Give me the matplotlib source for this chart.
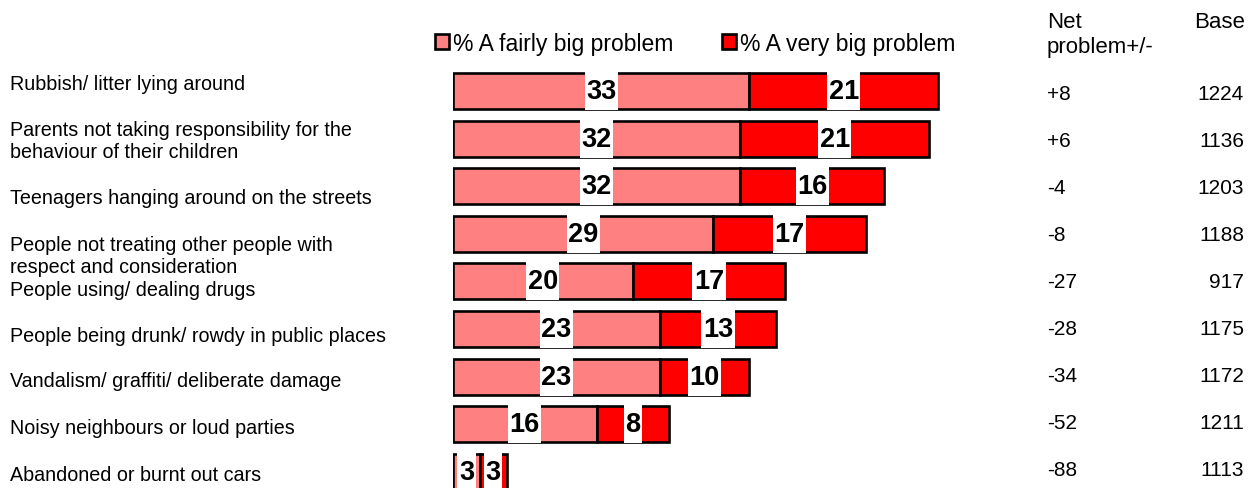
import matplotlib
matplotlib.use("Agg")
import matplotlib.pyplot as plt
from matplotlib.patches import Rectangle

plt.rcParams['font.family'] = ['Liberation Sans', 'DejaVu Sans']

categories = [
    "Rubbish/ litter lying around",
    "Parents not taking responsibility for the\nbehaviour of their children",
    "Teenagers hanging around on the streets",
    "People not treating other people with\nrespect and consideration",
    "People using/ dealing drugs",
    "People being drunk/ rowdy in public places",
    "Vandalism/ graffiti/ deliberate damage",
    "Noisy neighbours or loud parties",
    "Abandoned or burnt out cars",
]
fairly_big = [33, 32, 32, 29, 20, 23, 23, 16, 3]
very_big = [21, 21, 16, 17, 17, 13, 10, 8, 3]
net_problem = ["+8", "+6", "-4", "-8", "-27", "-28", "-34", "-52", "-88"]
base = ["1224", "1136", "1203", "1188", "917", "1175", "1172", "1211", "1113"]
series_names = ["% A fairly big problem", "% A very big problem"]

W, H = 1256, 489
fig = plt.figure(figsize=(W / 100, H / 100), dpi=100)


def fx(px):
    return px / W


def fy(py):
    return 1 - py / H


# plot area: zero at x=453px, 8.98 px per percentage point, rows 47.6 px apart
x0, x1 = 453, 1000
row0, step = 92, 47.6
top = row0 - 0.5 * step
ax = fig.add_axes([fx(x0), 0, fx(x1 - x0), (H - top) / H])
ax.set_xlim(0, (x1 - x0) / 8.98)
ax.set_ylim((H - row0) / step, -0.5)
ax.axis("off")

ypos = list(range(len(categories)))
bar_h = 0.756
c_fairly, c_very = "#FF8080", "#FF0000"
ax.barh(ypos, fairly_big, height=bar_h, color=c_fairly, edgecolor="black",
        linewidth=1.9, zorder=2, label=series_names[0])
ax.barh(ypos, very_big, left=fairly_big, height=bar_h, color=c_very,
        edgecolor="black", linewidth=1.9, zorder=2, label=series_names[1])

# value labels on white boxes in the middle of each segment
labels = []
for i in ypos:
    for left, val in ((0, fairly_big[i]), (fairly_big[i], very_big[i])):
        t = ax.text(left + val / 2, i, str(val), ha="center", va="center",
                    fontsize=19.5, fontweight="bold", color="black", zorder=5)
        labels.append((t, left + val / 2, i))

fig.canvas.draw()
inv = ax.transData.inverted()
for t, xc, yc in labels:
    bb = t.get_window_extent()
    (xa, _), (xb, _) = inv.transform([(bb.x0 - 1.5, 0), (bb.x1 + 1.5, 0)])
    ax.add_patch(Rectangle((xa, yc - bar_h / 2 - 0.02), xb - xa, bar_h + 0.04,
                           facecolor="white", edgecolor="none", zorder=4))

# legend
leg = fig.legend(loc="center left", bbox_to_anchor=(fx(435), fy(44)),
                 ncol=2, frameon=False, fontsize=16.5, handlelength=0.62,
                 handleheight=0.62, handletextpad=0.18, columnspacing=2.1,
                 borderpad=0, borderaxespad=0)
for h in leg.legend_handles:
    h.set_linewidth(1.9)

# category labels
label_y = [85, 142, 199, 256.5, 291, 337, 382, 429, 476]
for txt, py in zip(categories, label_y):
    fig.text(fx(10), fy(py), txt, ha="left", va="center", fontsize=14.2,
             linespacing=1.2)

# right-hand columns
fig.text(fx(1047), fy(35), "Net\nproblem+/-", ha="left", va="center",
         fontsize=16, linespacing=1.2)
fig.text(fx(1245), fy(22), "Base", ha="right", va="center", fontsize=16)
for i, (n, b) in enumerate(zip(net_problem, base)):
    py = 95 + 47 * i
    fig.text(fx(1047), fy(py), n, ha="left", va="center", fontsize=15)
    fig.text(fx(1244), fy(py), b, ha="right", va="center", fontsize=15)

fig.savefig("out.png", dpi=100, facecolor="white")
